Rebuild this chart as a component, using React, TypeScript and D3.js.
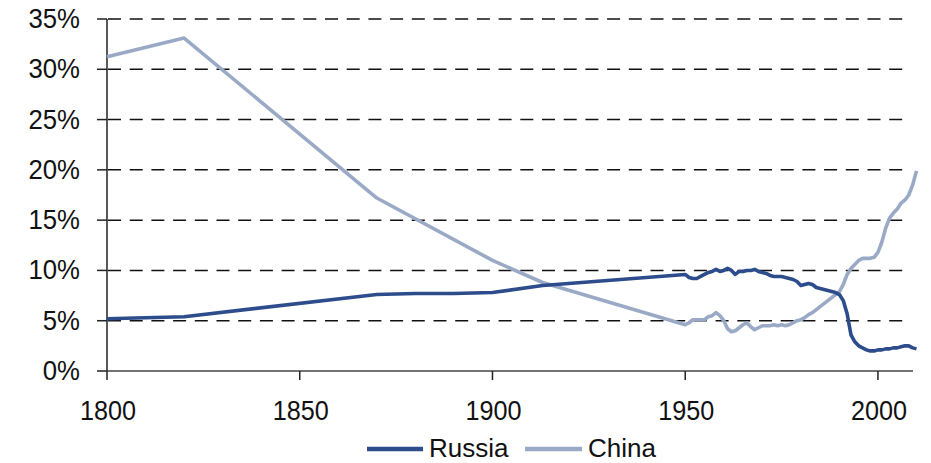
import React from "react";
import * as d3 from "d3";

const russiaYears = [1800, 1820, 1870, 1880, 1890, 1900, 1913,
  1950, 1951, 1952, 1953, 1954, 1955, 1956, 1957, 1958, 1959,
  1960, 1961, 1962, 1963, 1964, 1965, 1966, 1967, 1968, 1969,
  1970, 1971, 1972, 1973, 1974, 1975, 1976, 1977, 1978, 1979,
  1980, 1981, 1982, 1983, 1984, 1985, 1986, 1987, 1988, 1989,
  1990, 1991, 1992, 1993, 1994, 1995, 1996, 1997, 1998, 1999,
  2000, 2001, 2002, 2003, 2004, 2005, 2006, 2007, 2008, 2009, 2010];
const russiaValues = [5.2, 5.4, 7.6, 7.7, 7.7, 7.8, 8.5,
  9.6, 9.3, 9.2, 9.2, 9.4, 9.6, 9.8, 9.9, 10.1, 9.9,
  10.0, 10.2, 10.0, 9.6, 9.9, 9.9, 10.0, 10.0, 10.1, 9.9,
  9.8, 9.7, 9.5, 9.4, 9.4, 9.4, 9.3, 9.2, 9.1, 8.9,
  8.5, 8.6, 8.7, 8.6, 8.3, 8.2, 8.1, 8.0, 7.9, 7.8,
  7.6, 7.0, 5.7, 3.6, 2.9, 2.5, 2.3, 2.1, 2.0, 2.0,
  2.1, 2.1, 2.2, 2.2, 2.3, 2.3, 2.4, 2.5, 2.5, 2.3, 2.2];

const chinaYears = [1800, 1820, 1870, 1900, 1913,
  1950, 1951, 1952, 1953, 1954, 1955, 1956, 1957, 1958, 1959,
  1960, 1961, 1962, 1963, 1964, 1965, 1966, 1967, 1968, 1969,
  1970, 1971, 1972, 1973, 1974, 1975, 1976, 1977, 1978, 1979,
  1980, 1981, 1982, 1983, 1984, 1985, 1986, 1987, 1988, 1989,
  1990, 1991, 1992, 1993, 1994, 1995, 1996, 1997, 1998, 1999,
  2000, 2001, 2002, 2003, 2004, 2005, 2006, 2007, 2008, 2009, 2010];
const chinaValues = [31.25, 33.1, 17.2, 11.0, 8.8,
  4.6, 4.8, 5.1, 5.1, 5.1, 5.1, 5.4, 5.5, 5.8, 5.5,
  5.0, 4.2, 3.9, 4.0, 4.3, 4.6, 4.8, 4.4, 4.1, 4.3,
  4.5, 4.5, 4.5, 4.6, 4.5, 4.6, 4.5, 4.6, 4.8, 5.0,
  5.1, 5.3, 5.6, 5.8, 6.1, 6.4, 6.7, 7.0, 7.3, 7.6,
  7.9, 8.6, 9.6, 10.2, 10.6, 11.0, 11.2, 11.2, 11.2, 11.3,
  11.8, 12.8, 14.2, 15.2, 15.7, 16.1, 16.7, 17.0, 17.5, 18.5, 19.9];

const yTicks = [0, 5, 10, 15, 20, 25, 30, 35];
const xTicks = [1800, 1850, 1900, 1950, 2000];
const seriesNames = ["Russia", "China"];
const seriesColors = ["#2d4c8c", "#9aaac6"];

export default function App() {
  const x = d3.scaleLinear().domain([1800, 2010]).range([107, 916.5]);
  const y = d3.scaleLinear().domain([0, 35]).range([371, 19]);
  const line = d3
    .line<[number, number]>()
    .x((d) => x(d[0]))
    .y((d) => y(d[1]))
    .curve(d3.curveLinear);

  const russia = russiaYears.map((yr, i) => [yr, russiaValues[i]] as [number, number]);
  const china = chinaYears.map((yr, i) => [yr, chinaValues[i]] as [number, number]);
  const font = "'Liberation Sans', Arial, sans-serif";
  const axisEnd = 913;

  return (
    <svg
      width={931}
      height={463}
      style={{ position: "absolute", left: 0, top: 0, background: "#fff" }}
      fontFamily={font}
    >
      {yTicks
        .filter((t) => t > 0)
        .map((t) => (
          <line
            key={"g" + t}
            x1={x(1800) + 1}
            x2={905}
            y1={y(t)}
            y2={y(t)}
            stroke="#111"
            strokeWidth={1.5}
            strokeDasharray="13 8.7"
          />
        ))}
      {/* y axis */}
      <line x1={x(1800)} x2={x(1800)} y1={y(35)} y2={y(0)} stroke="#222" strokeWidth={1.5} />
      {yTicks.map((t) => (
        <g key={"yt" + t}>
          <line x1={x(1800) - 10} x2={x(1800)} y1={y(t)} y2={y(t)} stroke="#222" strokeWidth={1.5} />
          <text
            transform={`translate(80,${y(t) + 9}) scale(0.92,1)`}
            textAnchor="end"
            fontSize={28}
            fill="#111"
          >
            {t + "%"}
          </text>
        </g>
      ))}
      {/* x axis */}
      <line x1={x(1800)} x2={axisEnd} y1={y(0)} y2={y(0)} stroke="#444" strokeWidth={1.5} />
      {xTicks.map((t) => (
        <g key={"xt" + t}>
          <line x1={x(t)} x2={x(t)} y1={y(0)} y2={y(0) + 9} stroke="#222" strokeWidth={1.5} />
          <text
            transform={`translate(${x(t) + 1},420) scale(0.9,1)`}
            textAnchor="middle"
            fontSize={28}
            fill="#111"
          >
            {t}
          </text>
        </g>
      ))}
      <path d={line(china) || ""} fill="none" stroke={seriesColors[1]} strokeWidth={3.6} strokeLinejoin="round" />
      <path d={line(russia) || ""} fill="none" stroke={seriesColors[0]} strokeWidth={3.6} strokeLinejoin="round" />
      {/* legend */}
      <g>
        <line x1={367} x2={423} y1={449} y2={449} stroke={seriesColors[0]} strokeWidth={4.5} />
        <text x={429} y={457} fontSize={26} fill="#111">{seriesNames[0]}</text>
        <line x1={525} x2={582} y1={449} y2={449} stroke={seriesColors[1]} strokeWidth={4.5} />
        <text x={588} y={457} fontSize={26} fill="#111">{seriesNames[1]}</text>
      </g>
    </svg>
  );
}
